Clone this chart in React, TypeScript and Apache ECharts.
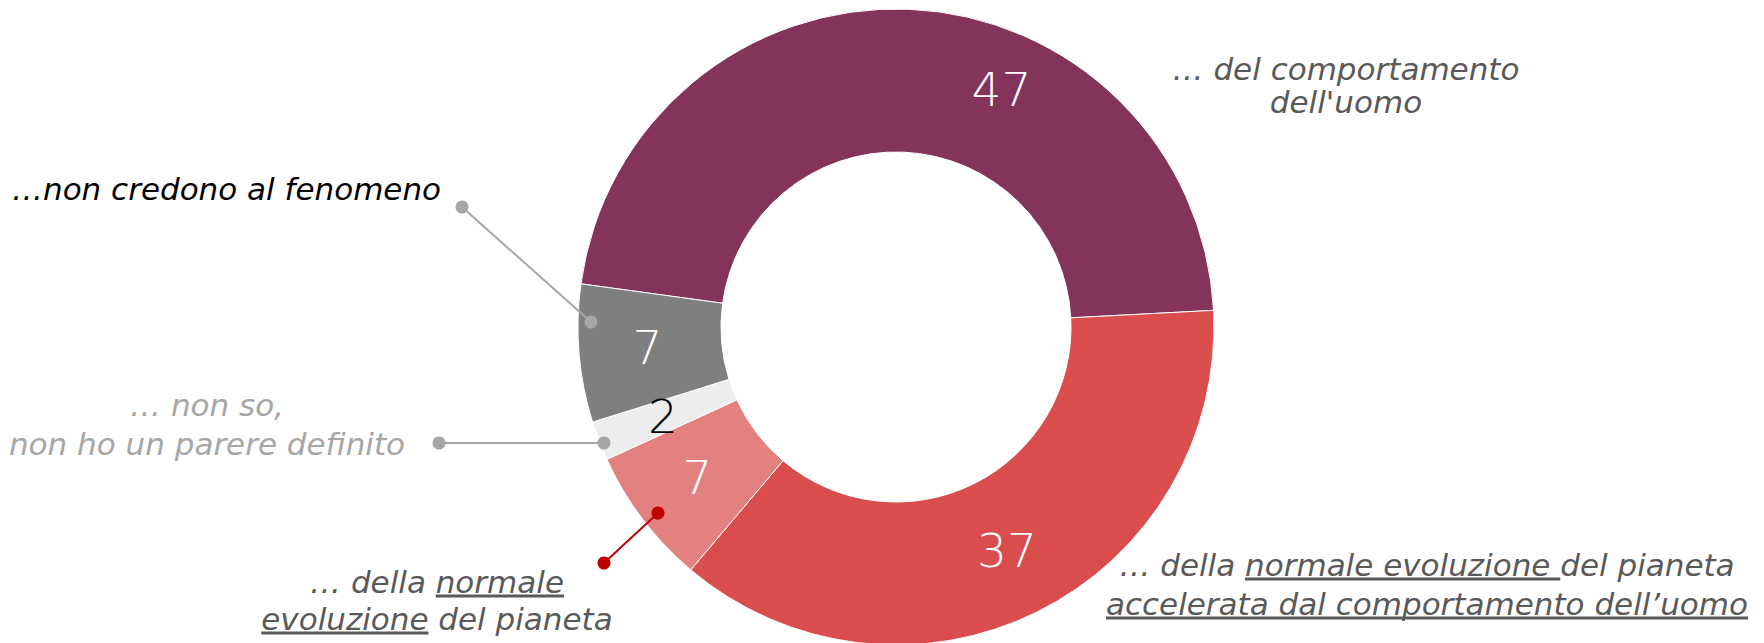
import React, { useEffect, useRef } from "react";
import * as echarts from "echarts";

// ---- data ----
const categories = [
  "… del comportamento dell'uomo",
  "… della normale evoluzione del pianeta accelerata dal comportamento dell’uomo",
  "… della normale evoluzione del pianeta",
  "… non so, non ho un parere definito",
  "…non credono al fenomeno",
];
const values = [47, 37, 7, 2, 7];
const sliceColors = ["#84345B", "#DA4D4D", "#E38080", "#EDEDED", "#7F7F7F"];
const valueLabelColors = ["#FFFFFF", "#FFFFFF", "#FFFFFF", "#000000", "#FFFFFF"];

// annotation texts: each line is a list of [text, underlined]
type Seg = [string, boolean];
const noteNonCredono: Seg[][] = [[["…non credono al fenomeno", false]]];
const noteNonSo: Seg[][] = [[["… non so,", false]], [["non ho un parere definito", false]]];
const noteComportamento: Seg[][] = [[["… del comportamento", false]], [["dell'uomo", false]]];
const noteNormale: Seg[][] = [
  [["… della ", false], ["normale", true]],
  [["evoluzione", true], [" del pianeta", false]],
];
const noteAccelerata: Seg[][] = [
  [["… della ", false], ["normale evoluzione ", true], ["del pianeta", false]],
  [["accelerata dal comportamento dell’uomo", true]],
];

const FONT_FAMILY = "DejaVu Sans";
const NOTE_SIZE = 31;
const NUM_SIZE = 47;

function measure(text: string, size: number): number {
  const c = document.createElement("canvas");
  const ctx = c.getContext("2d")!;
  ctx.font = `italic 300 ${size}px "${FONT_FAMILY}"`;
  return ctx.measureText(text).width;
}

function buildNote(
  lines: Seg[][],
  anchorX: number,
  yTop: number,
  lineGap: number,
  align: "left" | "center",
  color: string,
  underlineColor: string
): any[] {
  const els: any[] = [];
  const texts = lines.map((segs) => segs.map((s) => s[0]).join(""));
  const n = lines.length;
  const yMid = yTop + ((n - 1) * lineGap) / 2;
  els.push({
    type: "text",
    z: 100,
    x: anchorX,
    y: yMid,
    style: {
      text: texts.join("\n"),
      fill: color,
      fontSize: NOTE_SIZE,
      fontFamily: FONT_FAMILY,
      fontStyle: "italic",
      fontWeight: 300,
      lineHeight: lineGap,
      align,
      verticalAlign: "middle",
    },
  });
  lines.forEach((segs, li) => {
    const w = measure(texts[li], NOTE_SIZE);
    const x0 = align === "left" ? anchorX : anchorX - w / 2;
    const y = yTop + li * lineGap;
    let acc = 0;
    segs.forEach(([t, u]) => {
      const sw = measure(t, NOTE_SIZE);
      if (u) {
        els.push({
          type: "line",
          z: 100,
          shape: { x1: x0 + acc, y1: y + 14, x2: x0 + acc + sw, y2: y + 14 },
          style: { stroke: underlineColor, lineWidth: 3 },
        });
      }
      acc += sw;
    });
  });
  return els;
}

function leader(x1: number, y1: number, x2: number, y2: number, color: string): any[] {
  return [
    { type: "line", z: 100, shape: { x1, y1, x2, y2 }, style: { stroke: color, lineWidth: 2 } },
    { type: "circle", z: 101, shape: { cx: x1, cy: y1, r: 6.5 }, style: { fill: color } },
    { type: "circle", z: 101, shape: { cx: x2, cy: y2, r: 6.5 }, style: { fill: color } },
  ];
}

export default function App() {
  const ref = useRef<HTMLDivElement>(null);
  useEffect(() => {
    if (!ref.current) return;
    const chart = echarts.init(ref.current, undefined, { renderer: "svg" });
    const graphics: any[] = [
      ...leader(462, 207, 591, 322, "#A6A6A6"),
      ...leader(439, 443, 604, 443, "#A6A6A6"),
      ...leader(604, 563, 658, 513, "#C00000"),
      ...buildNote(noteNonCredono, 12, 189, 38, "left", "#000000", "#000000"),
      ...buildNote(noteNonSo, 207, 405, 39, "center", "#A6A6A6", "#A6A6A6"),
      ...buildNote(noteComportamento, 1346, 69, 33, "center", "#595959", "#595959"),
      ...buildNote(noteNormale, 437, 582, 37, "center", "#595959", "#595959"),
      ...buildNote(noteAccelerata, 1427, 565, 39, "center", "#595959", "#595959"),
    ];
    chart.setOption({
      animation: false,
      backgroundColor: "#FFFFFF",
      series: [
        {
          type: "pie",
          center: [896, 327],
          radius: [175, 318],
          startAngle: 172.2,
          clockwise: true,
          avoidLabelOverlap: false,
          itemStyle: { borderColor: "#FFFFFF", borderWidth: 1 },
          emphasis: { disabled: true },
          label: {
            show: true,
            position: "inside",
            formatter: "{c}",
            fontSize: NUM_SIZE,
            fontFamily: FONT_FAMILY,
            fontWeight: 200,
          },
          labelLine: { show: false },
          labelLayout: (p: any) => (p.dataIndex === 0 ? { dx: 95, dy: 12 } : {}),
          data: values.map((v, i) => ({
            name: categories[i],
            value: v,
            itemStyle: { color: sliceColors[i] },
            label: { color: valueLabelColors[i] },
          })),
        },
      ],
      graphic: graphics,
    });
    return () => chart.dispose();
  }, []);
  return (
    <div
      ref={ref}
      style={{ position: "fixed", left: 0, top: 0, width: 1764, height: 643, background: "#fff" }}
    />
  );
}
